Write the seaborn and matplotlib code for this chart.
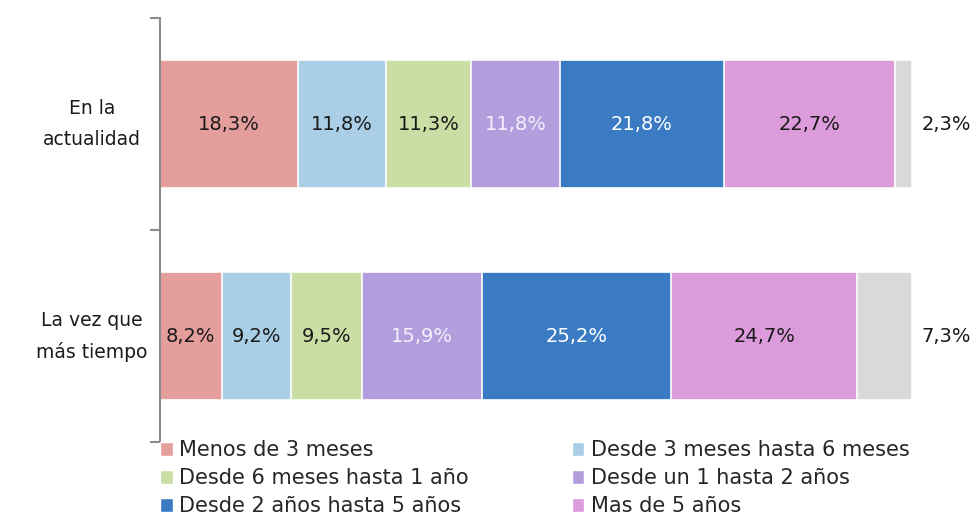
import numpy as np
import pandas as pd
import seaborn as sns
import matplotlib
matplotlib.use('Agg')
import matplotlib.pyplot as plt
from matplotlib.patches import Patch

rows = ["En la\nactualidad", "La vez que\nmás tiempo"]
categories = [
    "Menos de 3 meses",
    "Desde 3 meses hasta 6 meses",
    "Desde 6 meses hasta 1 año",
    "Desde un 1 hasta 2 años",
    "Desde 2 años hasta 5 años",
    "Mas de 5 años",
    "NS/NC",
]
actual = [18.3, 11.8, 11.3, 11.8, 21.8, 22.7, 2.3]
mas_tiempo = [8.2, 9.2, 9.5, 15.9, 25.2, 24.7, 7.3]
colors = ["#E49E9B", "#A9CEE5", "#CADDA4", "#B29EDC", "#3A7BC4", "#DC9BDA", "#D9D9D9"]
label_colors = ["#1a1a1a", "#1a1a1a", "#1a1a1a", "#f4f0fb", "#ffffff", "#1a1a1a", "#1a1a1a"]

sns.set_theme(style="white")
plt.rcParams['font.family'] = ['DejaVu Sans']

df = pd.DataFrame({"fila": np.repeat(rows, len(categories)),
                   "categoria": categories * len(rows),
                   "valor": actual + mas_tiempo})
df["acum"] = df.groupby("fila")["valor"].cumsum()

fig = plt.figure(figsize=(9.76, 5.16), dpi=100)
ax = fig.add_axes([160 / 976, 1 - 442 / 516, 752 / 976, 424 / 516])

# stacked bars: draw cumulative totals from the last category back to the first
for cat, col in reversed(list(zip(categories, colors))):
    sub = df[df["categoria"] == cat]
    sns.barplot(data=sub, x="acum", y="fila", order=rows, color=col, orient="h",
                width=0.6, saturation=1, edgecolor="white", linewidth=1.2, ax=ax)

for i, fila in enumerate(rows):
    sub = df[df["fila"] == fila].reset_index(drop=True)
    for j, r in sub.iterrows():
        txt = f"{r['valor']:.1f}%".replace(".", ",")
        if j == len(categories) - 1:
            ax.text(104.6, i, txt, ha="center", va="center",
                    fontsize=14, color=label_colors[j], clip_on=False)
        else:
            ax.text(r["acum"] - r["valor"] / 2, i, txt,
                    ha="center", va="center", fontsize=14, color=label_colors[j])

ax.set_xlim(0, 100)
ax.set_ylim(1.5, -0.5)
ax.set_xlabel("")
ax.set_ylabel("")
ax.set_xticks([])
for s in ["top", "right", "bottom"]:
    ax.spines[s].set_visible(False)
ax.spines["left"].set_color("#8c8c8c")
ax.spines["left"].set_linewidth(1.5)
ax.set_yticks([0, 1])
ax.set_yticklabels(rows, fontsize=13.5, ha="center", va="center",
                   multialignment="center", linespacing=1.75)
ax.set_yticks([-0.5, 0.5, 1.5], minor=True)
ax.tick_params(axis="y", which="major", length=0, pad=49, colors="#1a1a1a")
ax.tick_params(axis="y", which="minor", length=7, width=1.5, color="#8c8c8c", left=True)

handles = [Patch(facecolor=c, edgecolor="white", label=l) for c, l in zip(colors[:6], categories[:6])]
order = [0, 2, 4, 1, 3, 5]
fig.legend([handles[k] for k in order], [categories[k] for k in order],
           loc="upper left", bbox_to_anchor=(150 / 976, 1 - 430 / 516), ncol=2,
           frameon=False, fontsize=15, handlelength=0.6, handleheight=0.6,
           handletextpad=0.3, columnspacing=4.95, labelspacing=0.38, borderpad=0)

fig.savefig("out.png", dpi=100)
